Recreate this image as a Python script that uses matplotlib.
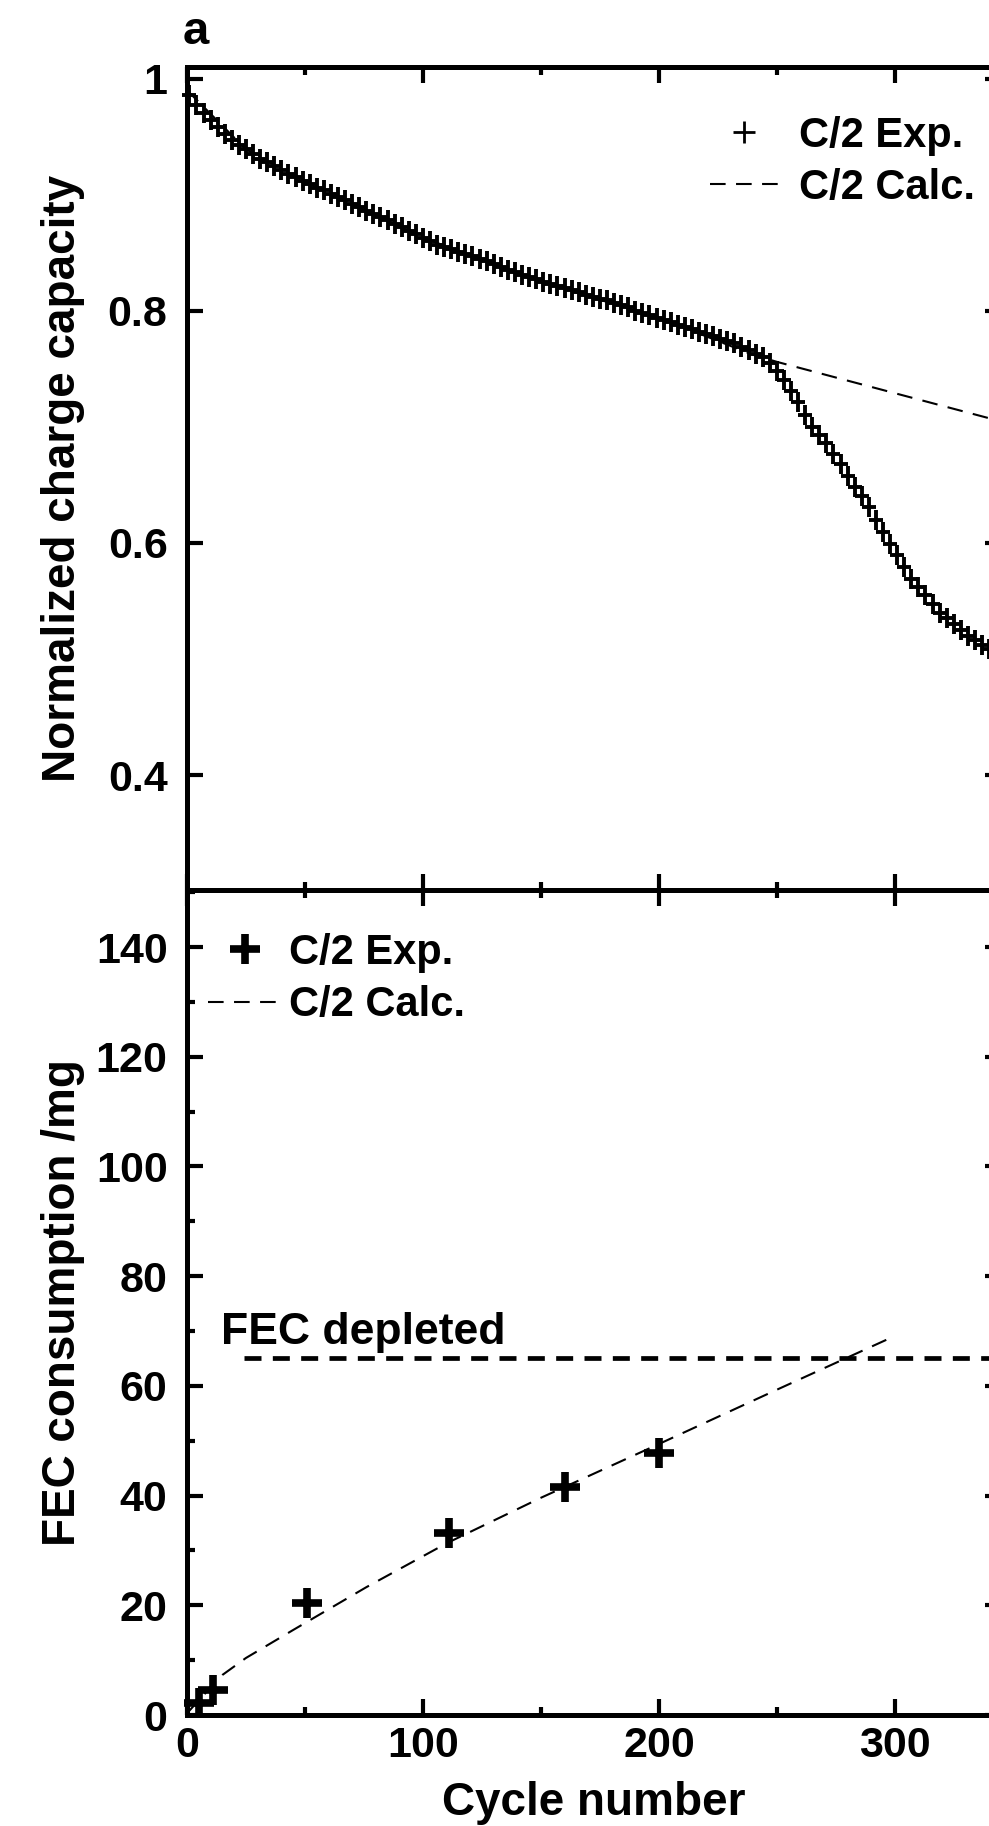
import matplotlib
matplotlib.use('Agg')
import matplotlib.pyplot as plt
from matplotlib.lines import Line2D
from matplotlib.path import Path
from matplotlib.ticker import MultipleLocator, FixedLocator, FuncFormatter

plt.rcParams['font.family'] = ['Liberation Sans', 'DejaVu Sans']
plt.rcParams['font.weight'] = 'bold'
plt.rcParams['axes.labelweight'] = 'bold'

# panel a (top): normalized charge capacity, one marker every third cycle
cycles_exp = list(range(1, 341, 3))
capacity_exp = [
    0.986, 0.977, 0.970, 0.964, 0.958, 0.952, 0.947, 0.943, 0.939, 0.935,
    0.931, 0.928, 0.925, 0.921, 0.918, 0.915, 0.912, 0.909, 0.906, 0.904,
    0.901, 0.898, 0.895, 0.892, 0.889, 0.886, 0.883, 0.881, 0.878, 0.875,
    0.872, 0.869, 0.866, 0.863, 0.860, 0.857, 0.855, 0.853, 0.851, 0.849,
    0.847, 0.845, 0.843, 0.840, 0.838, 0.835, 0.833, 0.831, 0.829, 0.827,
    0.825, 0.823, 0.821, 0.820, 0.818, 0.816, 0.814, 0.812, 0.810, 0.809,
    0.807, 0.805, 0.803, 0.800, 0.798, 0.796, 0.794, 0.792, 0.790, 0.788,
    0.786, 0.784, 0.782, 0.780, 0.778, 0.776, 0.774, 0.772, 0.769, 0.766,
    0.763, 0.760, 0.755, 0.748, 0.740, 0.731, 0.721, 0.710, 0.700, 0.693,
    0.686, 0.677, 0.668, 0.658, 0.648, 0.640, 0.631, 0.620, 0.609, 0.599,
    0.590, 0.579, 0.569, 0.562, 0.555, 0.547, 0.540, 0.535, 0.530, 0.525,
    0.520, 0.516, 0.512, 0.509,
]
cycles_calc = [0, 25, 50, 100, 150, 200, 240, 250, 300, 350]
capacity_calc = [0.99, 0.939, 0.911, 0.863, 0.825, 0.794, 0.762, 0.756, 0.729, 0.702]

# panel b (bottom): FEC consumption
fec_cycles = [5, 11, 51, 111, 160, 200]
fec_exp = [2.2, 4.5, 20.4, 33.1, 41.5, 47.8]
fec_calc_cycles = [0, 5, 15, 25, 45, 76, 110, 150, 200, 250, 300]
fec_calc = [0.3, 2.7, 7.3, 10.4, 15.5, 23.3, 31.3, 39.6, 49.4, 59.3, 69.1]
fec_depleted = 65
fec_line_cycles = [24, 360]

# a slightly tall plus, like the one in the original figure
tall_plus = Path([(-0.35, 0), (0.35, 0), (0, -0.5), (0, 0.5)],
                 [Path.MOVETO, Path.LINETO, Path.MOVETO, Path.LINETO])

W, H = 989, 1826
fig = plt.figure(figsize=(W / 100, H / 100), dpi=100)
left = 187 / W
width = 814 / W
ax1 = fig.add_axes([left, (H - 890) / H, width, 823 / H])
ax2 = fig.add_axes([left, (H - 1715) / H, width, 825 / H])

for ax in (ax1, ax2):
    for s in ax.spines.values():
        s.set_linewidth(3.6)
    ax.tick_params(which='both', direction='in', top=True, right=True, width=3.0)
    ax.tick_params(which='major', length=11.5)
    ax.tick_params(which='minor', length=6)
    ax.set_xlim(0, 345)
    ax.xaxis.set_major_locator(MultipleLocator(100))
    ax.xaxis.set_minor_locator(MultipleLocator(50))

# top panel
ax1.plot(cycles_calc, capacity_calc, color='black', lw=1.5, dashes=(7.5, 5))
ax1.plot(cycles_exp, capacity_exp, ls='none', marker=tall_plus, ms=14.5, mew=2.8,
         color='black', mfc='none', clip_on=False)
ax1.set_ylim(0.301, 1.010)
ax1.yaxis.set_major_locator(FixedLocator([0.4, 0.6, 0.8, 1.0]))
ax1.yaxis.set_major_formatter(FuncFormatter(lambda v, p: '%g' % v))
ax1.tick_params(axis='x', labelbottom=False)
ax1.tick_params(axis='y', labelsize=31, pad=14)
ax1.set_ylabel('Normalized charge capacity', fontsize=33, fontweight='bold')
ax1.yaxis.set_label_coords(-0.125, 0.5)

exp_handle = Line2D([], [], ls='none', marker='+', ms=16, mew=2, color='black')
calc_handle = Line2D([], [], color='black', lw=1.5, dashes=(7.5, 5))
ax1.legend([exp_handle, calc_handle], ['C/2 Exp.', 'C/2 Calc.'], loc='upper left',
           bbox_to_anchor=(0.6425, 0.941), frameon=False, fontsize=30, handlelength=1.63,
           handletextpad=0.5, labelspacing=0.3, borderpad=0, borderaxespad=0)

fig.text(183 / W, 1 - 44 / H, 'a', fontsize=34, va='baseline')

# bottom panel
ax2.plot(fec_calc_cycles, fec_calc, color='black', lw=1.5, dashes=(7.5, 5), label='C/2 Calc.')
ax2.plot(fec_cycles, fec_exp, ls='none', marker='+', ms=21, mew=5.5, color='black',
         label='C/2 Exp.', clip_on=False)
ax2.plot(fec_line_cycles, [fec_depleted, fec_depleted], color='black', lw=3.4, dashes=(3.6, 2.4))
ax2.text(14.5, 67.6, 'FEC depleted', fontsize=32, va='baseline')
ax2.set_ylim(0, 150.4)
ax2.yaxis.set_major_locator(MultipleLocator(20))
ax2.yaxis.set_minor_locator(MultipleLocator(10))
ax2.yaxis.set_major_formatter(FuncFormatter(lambda v, p: '%g' % v))
ax2.xaxis.set_major_formatter(FuncFormatter(lambda v, p: '%g' % v))
ax2.tick_params(axis='y', labelsize=31, pad=14)
ax2.tick_params(axis='x', labelsize=31, pad=8)
ax2.set_ylabel('FEC consumption /mg', fontsize=33, fontweight='bold')
ax2.yaxis.set_label_coords(-0.125, 0.5)
ax2.set_xlabel('Cycle number', fontsize=33, fontweight='bold')
ax2.xaxis.set_label_coords(0.5, -0.08)

h, l = ax2.get_legend_handles_labels()
ax2.legend([h[1], h[0]], [l[1], l[0]], loc='upper left', bbox_to_anchor=(0.026, 0.948),
           frameon=False, fontsize=30, handlelength=1.75, handletextpad=0.2,
           labelspacing=0.3, borderpad=0, borderaxespad=0)

fig.savefig('out.png', dpi=100)
